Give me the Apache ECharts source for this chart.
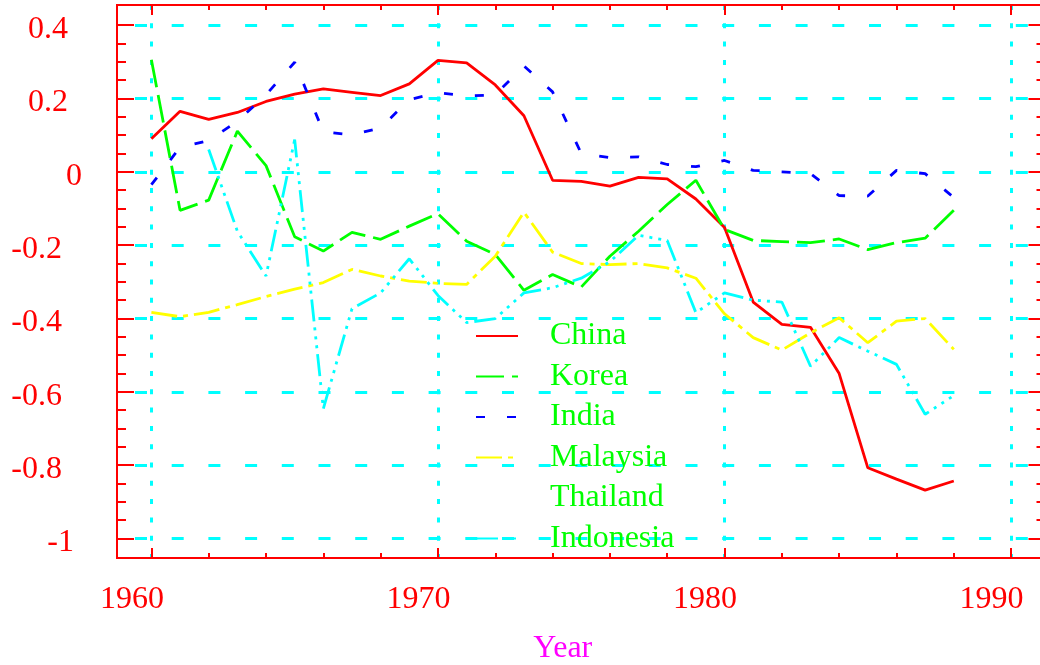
<!DOCTYPE html>
<html>
<head>
<meta charset="utf-8">
<title>Year</title>
<style>
html,body{margin:0;padding:0;background:#fff;}
#chart{width:1040px;height:665px;}
</style>
</head>
<body>
<div id="chart"></div>
<script src="https://cdn.jsdelivr.net/npm/echarts@6/dist/echarts.min.js"></script>
<script>
// data
var years = [1960, 1961, 1962, 1963, 1964, 1965, 1966, 1967, 1968, 1969,
             1970, 1971, 1972, 1973, 1974, 1975, 1976, 1977, 1978, 1979,
             1980, 1981, 1982, 1983, 1984, 1985, 1986, 1987, 1988];
var china = [0.090, 0.165, 0.143, 0.162, 0.192, 0.212, 0.226, 0.217, 0.208, 0.240,
             0.304, 0.297, 0.237, 0.153, -0.023, -0.026, -0.039, -0.015, -0.019, -0.074,
             -0.152, -0.355, -0.416, -0.424, -0.550, -0.807, -0.838, -0.868, -0.843];
var korea = [0.306, -0.105, -0.077, 0.111, 0.017, -0.177, -0.216, -0.165, -0.184, -0.148,
             -0.114, -0.189, -0.225, -0.323, -0.280, -0.314, -0.230, -0.162, -0.089, -0.023,
             -0.157, -0.187, -0.190, -0.193, -0.183, -0.212, -0.193, -0.181, -0.105];
var india = [-0.035, 0.067, 0.085, 0.138, 0.210, 0.299, 0.109, 0.101, 0.120, 0.197,
             0.216, 0.207, 0.210, 0.289, 0.218, 0.050, 0.039, 0.041, 0.020, 0.014,
             0.031, 0.004, 0.000, -0.005, -0.065, -0.066, 0.004, -0.005, -0.070];
var malaysia = [-0.383, -0.395, -0.383, -0.362, -0.340, -0.320, -0.302, -0.266, -0.284, -0.298,
                -0.304, -0.307, -0.230, -0.110, -0.219, -0.250, -0.253, -0.250, -0.262, -0.290,
                -0.387, -0.452, -0.486, -0.439, -0.398, -0.466, -0.407, -0.400, -0.484];
var thailand = [];
var indonesia = [null, null, 0.061, -0.162, -0.284, 0.088, -0.646, -0.373, -0.330, -0.237,
                 -0.337, -0.411, -0.400, -0.330, -0.316, -0.290, -0.245, -0.173, -0.187, -0.384,
                 -0.330, -0.350, -0.355, -0.530, -0.452, -0.489, -0.525, -0.661, -0.610];

var xMajorTicks = [1960, 1970, 1980, 1990];
var xMinorTicks = [1960, 1962, 1964, 1966, 1968, 1970, 1972, 1974, 1976, 1978,
                   1980, 1982, 1984, 1986, 1988, 1990];
var yMajorTicks = [-1, -0.8, -0.6, -0.4, -0.2, 0, 0.2, 0.4];
var yTickLabels = ['-1', '-0.8', '-0.6', '-0.4', '-0.2', '0', '0.2', '0.4'];
var yMinorTicks = [-1, -0.95, -0.9, -0.85, -0.8, -0.75, -0.7, -0.65, -0.6, -0.55,
                   -0.5, -0.45, -0.4, -0.35, -0.3, -0.25, -0.2, -0.15, -0.1, -0.05,
                   0, 0.05, 0.1, 0.15, 0.2, 0.25, 0.3, 0.35, 0.4];

(function () {
    var red = '#ff0000', cyan = '#00ffff', font = 'Liberation Serif';
    var xMin = 1958.8, xMax = 1991.2, yMin = -1.053, yMax = 0.455;
    var rect = {left: 117, top: 5, width: 928.5, height: 553, outerBoundsMode: 'none'};

    // one axis frame side: red line, inward ticks
    function side(grid, pos, isX, ticks, len) {
        return {
            type: 'value', gridIndex: grid, position: pos,
            min: isX ? xMin : yMin, max: isX ? xMax : yMax,
            axisLine: {show: true, onZero: false, lineStyle: {color: red, width: 2}},
            axisTick: {show: true, inside: true, length: len, customValues: ticks,
                       lineStyle: {color: red, width: 2}},
            axisLabel: {show: false},
            splitLine: {show: false}
        };
    }

    var xBottom = side(0, 'bottom', true, xMajorTicks, 10);
    xBottom.axisLabel = {show: true, customValues: xMajorTicks, color: red, fontFamily: font,
                         fontSize: 32, margin: 26, padding: [0, 39, 0, 0],
                         formatter: function (v) { return String(v); }};
    xBottom.splitLine = {show: true, lineStyle: {color: cyan, width: 3, type: [5, 13.3]}};
    xBottom.name = 'Year';
    xBottom.nameLocation = 'middle';
    xBottom.nameGap = 75;
    xBottom.nameTextStyle = {color: '#ff00ff', fontFamily: font, fontSize: 32, padding: [0, 37, 0, 0]};

    // label offsets, IDL style
    var shift = {p: 14, z: 0, n: 20, m: 8};
    var rich = {};
    for (var k in shift) {
        rich[k] = {color: red, fontFamily: font, fontSize: 32, padding: [9, shift[k], 0, 0]};
    }
    var yLeft = side(0, 'left', false, yMajorTicks, 17);
    yLeft.axisLabel = {
        show: true, customValues: yMajorTicks, align: 'right', margin: 35,
        color: red, fontFamily: font, fontSize: 32, rich: rich,
        formatter: function (v) {
            var i = 0;
            for (var j = 0; j < yMajorTicks.length; j++) {
                if (Math.abs(yMajorTicks[j] - v) < 1e-6) i = j;
            }
            var t = yTickLabels[i];
            var key = t === '0' ? 'z' : (t === '-1' ? 'm' : (t.charAt(0) === '-' ? 'n' : 'p'));
            return '{' + key + '|' + t + '}';
        }
    };
    yLeft.splitLine = {show: true, lineStyle: {color: cyan, width: 3, type: [12, 24.7], dashOffset: 18.7}};

    function line(name, values, color, dash) {
        var pts = [];
        for (var i = 0; i < values.length; i++) pts.push([years[i], values[i]]);
        return {
            name: name, type: 'line', xAxisIndex: 0, yAxisIndex: 0,
            symbol: 'none', connectNulls: false, data: pts,
            itemStyle: {color: color},
            lineStyle: {color: color, width: 2.8, type: dash}
        };
    }

    var option = {
        animation: false,
        backgroundColor: '#ffffff',
        grid: [rect, rect],
        xAxis: [xBottom, side(0, 'top', true, xMajorTicks, 10),
                side(1, 'bottom', true, xMinorTicks, 5), side(1, 'top', true, xMinorTicks, 5)],
        yAxis: [yLeft, side(0, 'right', false, yMajorTicks, 17),
                side(1, 'left', false, yMinorTicks, 9), side(1, 'right', false, yMinorTicks, 9)],
        legend: {
            orient: 'vertical', left: 475, top: 317, padding: 0,
            itemWidth: 42, itemHeight: 32, itemGap: 2.5, selectedMode: false,
            itemStyle: {color: 'transparent', borderWidth: 0, opacity: 0},
            data: ['China', 'Korea', 'India', 'Malaysia', 'Thailand', 'Indonesia'],
            textStyle: {color: '#00ff00', fontFamily: font, fontSize: 32, lineHeight: 32,
                        padding: [6, 0, 0, 27]}
        },
        series: [
            line('China', china, '#ff0000', 'solid'),
            line('Korea', korea, '#00ff00', [28, 8]),
            line('India', india, '#0000ff', [9, 22]),
            line('Malaysia', malaysia, '#ffff00', [26, 6, 5, 6]),
            line('Thailand', thailand, '#ffffff', 'solid'),
            line('Indonesia', indonesia, '#00ffff', [22, 6, 3, 6, 3, 6, 3, 6])
        ]
    };

    var myChart = echarts.init(document.getElementById('chart'));
    myChart.setOption(option);
})();
</script>
</body>
</html>
